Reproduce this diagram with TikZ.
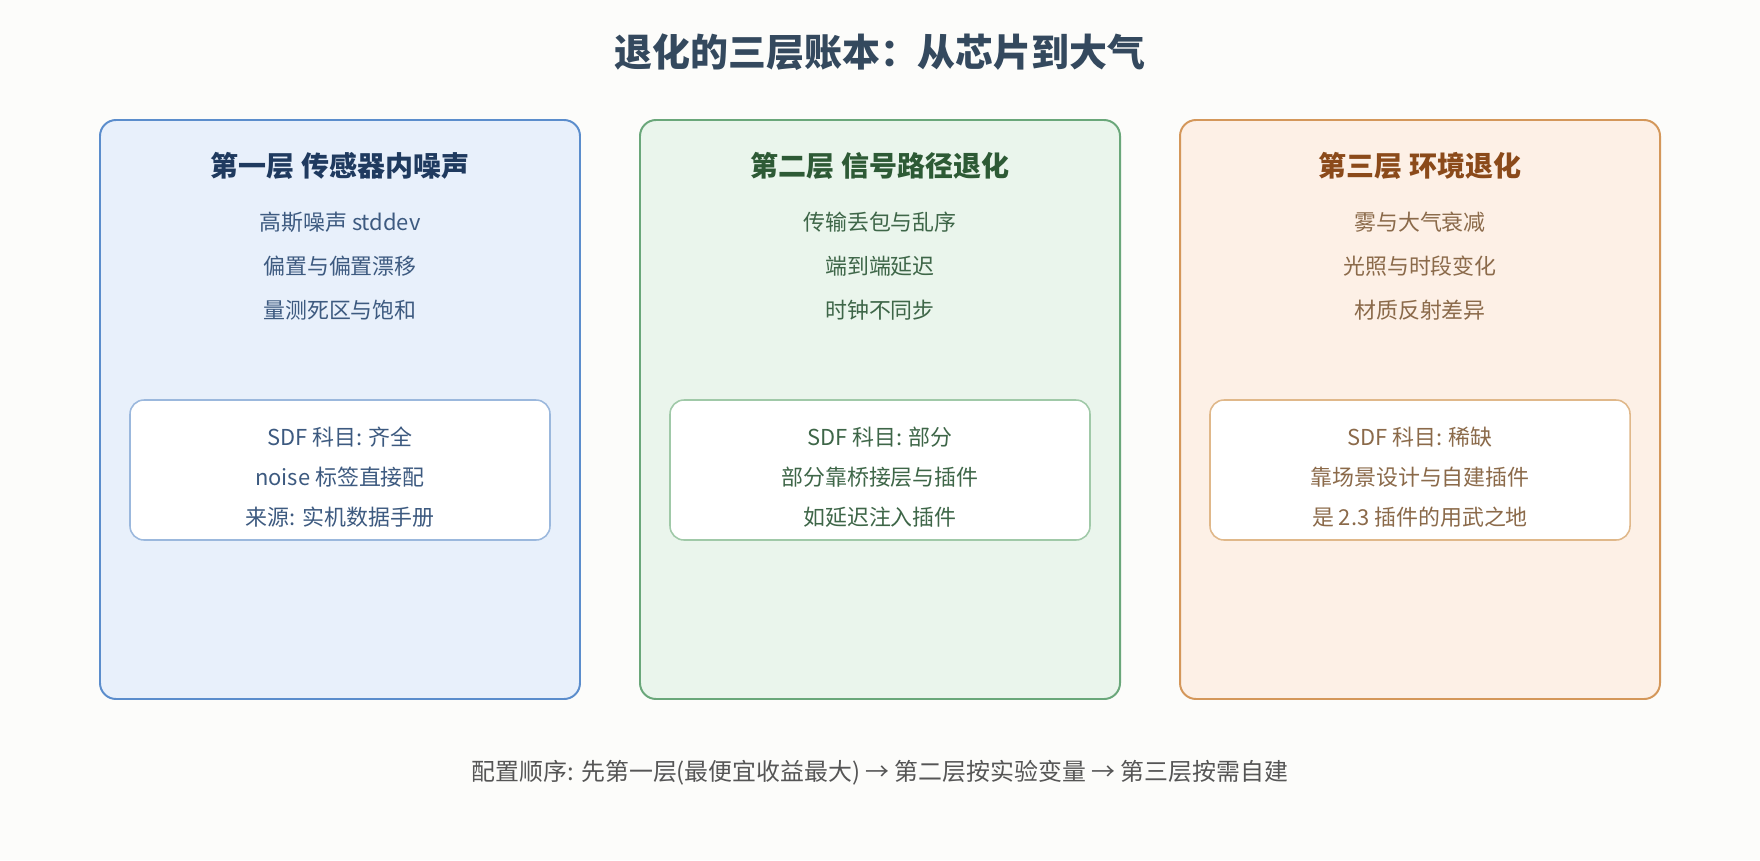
\documentclass[tikz,border=0pt]{standalone}
\usepackage{fontspec}
\setmainfont{Noto Sans CJK SC}
\usetikzlibrary{positioning}
\definecolor{pagebg}{RGB}{252,252,250}
\definecolor{titlegray}{RGB}{52,73,94}
\definecolor{chipblue}{RGB}{91,141,204}
\definecolor{chipfill}{RGB}{232,240,251}
\definecolor{chipdark}{RGB}{31,58,95}
\definecolor{chiptext}{RGB}{61,90,128}
\definecolor{chipline}{RGB}{155,184,221}
\definecolor{pathgreen}{RGB}{106,167,122}
\definecolor{pathfill}{RGB}{234,245,236}
\definecolor{pathdark}{RGB}{45,90,53}
\definecolor{pathtext}{RGB}{62,102,72}
\definecolor{pathline}{RGB}{160,201,168}
\definecolor{airorange}{RGB}{212,151,90}
\definecolor{airfill}{RGB}{253,240,230}
\definecolor{airdark}{RGB}{139,74,26}
\definecolor{airtext}{RGB}{139,106,74}
\definecolor{airline}{RGB}{224,184,138}
\definecolor{notegray}{RGB}{85,85,85}

\begin{document}
\begin{tikzpicture}[
    layer/.style={rectangle, rounded corners=0.4cm, line width=1.4pt, minimum width=12cm, minimum height=14.475cm, inner sep=0pt},
    source/.style={rectangle, rounded corners=0.35cm, line width=1.1pt, fill=white, minimum width=10.5cm, minimum height=3.5cm, inner sep=0pt},
    heading/.style={font=\fontsize{19.9}{24}\selectfont\bfseries},
    item/.style={font=\fontsize{15.6}{19}\selectfont}
]

% Page
\useasboundingbox[fill=pagebg] (0,0) rectangle (44,-21.5);

% Title
\node[font=\fontsize{27}{32}\selectfont\bfseries, titlegray] (title) at (22,-1.3) {退化的三层账本：从芯片到大气};

% Layer 1: sensor
\node[layer, fill=chipfill, draw=chipblue] (chip) at (8.5,-10.2375) {};
\node[heading, chipdark] (chiphead) at (8.5,-4.15) {第一层 传感器内噪声};
\node[item, chiptext] (chipa) at (8.5,-5.55) {高斯噪声 stddev};
\node[item, chiptext] (chipb) at (8.5,-6.65) {偏置与偏置漂移};
\node[item, chiptext] (chipc) at (8.5,-7.75) {量测死区与饱和};
\node[source, draw=chipline] (chipsrc) at (8.5,-11.75) {};
\node[item, chiptext] (chipsa) at (8.5,-10.925) {SDF 科目: 齐全};
\node[item, chiptext] (chipsb) at (8.5,-11.925) {noise 标签直接配};
\node[item, chiptext] (chipsc) at (8.5,-12.925) {来源: 实机数据手册};

% Layer 2: signal path
\node[layer, fill=pathfill, draw=pathgreen] (path) at (22,-10.2375) {};
\node[heading, pathdark] (pathhead) at (22,-4.15) {第二层 信号路径退化};
\node[item, pathtext] (patha) at (22,-5.55) {传输丢包与乱序};
\node[item, pathtext] (pathb) at (22,-6.65) {端到端延迟};
\node[item, pathtext] (pathc) at (22,-7.75) {时钟不同步};
\node[source, draw=pathline] (pathsrc) at (22,-11.75) {};
\node[item, pathtext] (pathsa) at (22,-10.925) {SDF 科目: 部分};
\node[item, pathtext] (pathsb) at (22,-11.925) {部分靠桥接层与插件};
\node[item, pathtext] (pathsc) at (22,-12.925) {如延迟注入插件};

% Layer 3: environment
\node[layer, fill=airfill, draw=airorange] (air) at (35.5,-10.2375) {};
\node[heading, airdark] (airhead) at (35.5,-4.15) {第三层 环境退化};
\node[item, airtext] (aira) at (35.5,-5.55) {雾与大气衰减};
\node[item, airtext] (airb) at (35.5,-6.65) {光照与时段变化};
\node[item, airtext] (airc) at (35.5,-7.75) {材质反射差异};
\node[source, draw=airline] (airsrc) at (35.5,-11.75) {};
\node[item, airtext] (airsa) at (35.5,-10.925) {SDF 科目: 稀缺};
\node[item, airtext] (airsb) at (35.5,-11.925) {靠场景设计与自建插件};
\node[item, airtext] (airsc) at (35.5,-12.925) {是 2.3 插件的用武之地};

% Order note
\node[font=\fontsize{17}{20}\selectfont, notegray] (order) at (22,-19.325) {配置顺序: 先第一层(最便宜收益最大) → 第二层按实验变量 → 第三层按需自建};

\end{tikzpicture}
\end{document}
